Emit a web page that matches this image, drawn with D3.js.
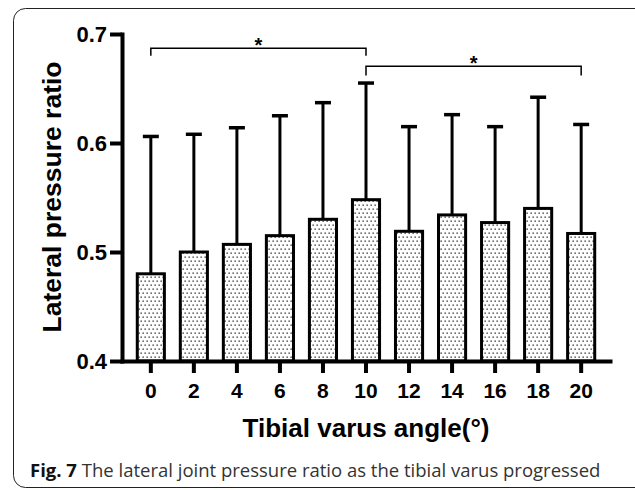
<!DOCTYPE html>
<html>
<head>
<meta charset="utf-8">
<script src="https://cdn.jsdelivr.net/npm/d3@7"></script>
<style>
  body { margin: 0; background: #fff; }
  svg { display: block; }
</style>
</head>
<body>
<div id="chart"></div>
<script>
////////////////////////////// Data //////////////////////////////
var angles = ["0", "2", "4", "6", "8", "10", "12", "14", "16", "18", "20"];
var means  = [0.480, 0.500, 0.507, 0.515, 0.530, 0.548, 0.519, 0.534, 0.527, 0.540, 0.517];
var upper  = [0.606, 0.608, 0.614, 0.625, 0.637, 0.655, 0.615, 0.626, 0.615, 0.642, 0.617];
var yTicks = [0.4, 0.5, 0.6, 0.7];
// significance brackets: from, to, bar level, leg end
var sigFrom  = ["0", "10"];
var sigTo    = ["10", "20"];
var sigLevel = [0.687, 0.6705];
var sigLeg   = [0.680, 0.662];

var width = 635, height = 490;

var svg = d3.select("#chart").append("svg")
    .attr("width", width)
    .attr("height", height);

//dotted fill for the bars
var defs = svg.append("defs");
var pat = defs.append("pattern")
    .attr("id", "dots")
    .attr("patternUnits", "userSpaceOnUse")
    .attr("width", 4)
    .attr("height", 8);
pat.append("rect").attr("width", 4).attr("height", 8).attr("fill", "#fff");
pat.append("rect").attr("x", 0.5).attr("y", 0.5).attr("width", 1.3).attr("height", 1.3).attr("fill", "#222");
pat.append("rect").attr("x", 2.5).attr("y", 4.5).attr("width", 1.3).attr("height", 1.3).attr("fill", "#222");

//frame round figure
svg.append("rect")
    .attr("x", 13.5).attr("y", 8.5)
    .attr("width", 640).attr("height", 479)
    .attr("rx", 12).attr("ry", 12)
    .attr("fill", "none")
    .attr("stroke", "#222")
    .attr("stroke-width", 1);

////////////////////////////// Scales //////////////////////////////
var x = d3.scaleBand()
    .domain(angles)
    .range([122, 610])
    .paddingInner(0.37)
    .paddingOuter(0.355);

var y = d3.scaleLinear()
    .domain([0.4, 0.7])
    .range([361, 34]);

var font = "'Liberation Sans', Arial, sans-serif";

////////////////////////////// Error bars //////////////////////////////
var eb = svg.append("g");
eb.selectAll(".err")
    .data(angles)
    .enter().append("line")
    .attr("x1", function (d) { return x(d) + x.bandwidth() / 2; })
    .attr("x2", function (d) { return x(d) + x.bandwidth() / 2; })
    .attr("y1", function (d, i) { return y(means[i]); })
    .attr("y2", function (d, i) { return y(upper[i]); })
    .attr("stroke", "#000")
    .attr("stroke-width", 3);
eb.selectAll(".cap")
    .data(angles)
    .enter().append("line")
    .attr("x1", function (d) { return x(d) + x.bandwidth() / 2 - 8; })
    .attr("x2", function (d) { return x(d) + x.bandwidth() / 2 + 8; })
    .attr("y1", function (d, i) { return y(upper[i]); })
    .attr("y2", function (d, i) { return y(upper[i]); })
    .attr("stroke", "#000")
    .attr("stroke-width", 3.5);

////////////////////////////// Bars //////////////////////////////
svg.append("g")
    .selectAll(".bar")
    .data(angles)
    .enter().append("rect")
    .attr("x", function (d) { return x(d); })
    .attr("y", function (d, i) { return y(means[i]); })
    .attr("width", x.bandwidth())
    .attr("height", function (d, i) { return y(0.4) - y(means[i]); })
    .attr("fill", "url(#dots)")
    .attr("stroke", "#000")
    .attr("stroke-width", 3);

////////////////////////////// Axes //////////////////////////////
var yAxis = svg.append("g")
    .attr("transform", "translate(122,0)")
    .call(d3.axisLeft(y).tickValues(yTicks).tickSize(12).tickSizeOuter(0).tickPadding(3)
        .tickFormat(d3.format(".1f")));

var xAxis = svg.append("g")
    .attr("transform", "translate(0,361)")
    .call(d3.axisBottom(x).tickSize(12).tickSizeOuter(0).tickPadding(10));

[yAxis, xAxis].forEach(function (ax) {
    ax.select(".domain").attr("stroke", "#000").attr("stroke-width", 4).attr("stroke-linecap", "square");
    ax.selectAll(".tick line").attr("stroke", "#000").attr("stroke-width", 4);
    ax.selectAll(".tick text")
        .attr("fill", "#000")
        .style("font-family", font)
        .style("font-weight", "bold")
        .style("font-size", "21px");
});
yAxis.selectAll(".tick text").style("font-size", "22px");

//axis titles
svg.append("text")
    .attr("x", 366).attr("y", 437)
    .attr("text-anchor", "middle")
    .style("font-family", font).style("font-weight", "bold").style("font-size", "26px")
    .text("Tibial varus angle(°)");

svg.append("text")
    .attr("transform", "translate(61,197) rotate(-90)")
    .attr("text-anchor", "middle")
    .style("font-family", font).style("font-weight", "bold").style("font-size", "26.5px")
    .text("Lateral pressure ratio");

////////////////////////////// Significance //////////////////////////////
var sig = svg.append("g");
sigFrom.forEach(function (f, i) {
    var x1 = x(f) + x.bandwidth() / 2,
        x2 = x(sigTo[i]) + x.bandwidth() / 2;
    sig.append("path")
        .attr("d", "M" + x1 + "," + y(sigLeg[i]) + "V" + y(sigLevel[i]) + "H" + x2 + "V" + y(sigLeg[i]))
        .attr("fill", "none")
        .attr("stroke", "#000")
        .attr("stroke-width", 1.5);
    sig.append("text")
        .attr("x", (x1 + x2) / 2)
        .attr("y", y(sigLevel[i]) + 4)
        .attr("text-anchor", "middle")
        .style("font-family", font).style("font-weight", "bold").style("font-size", "20px")
        .text("*");
});

////////////////////////////// Caption //////////////////////////////
var cap = svg.append("text")
    .attr("x", 30).attr("y", 477)
    .style("font-family", "'Open Sans', sans-serif")
    .style("font-size", "18.5px");
cap.append("tspan").style("font-weight", "bold").attr("fill", "#111").text("Fig. 7");
cap.append("tspan").attr("fill", "#333").text(" The lateral joint pressure ratio as the tibial varus progressed");
</script>
</body>
</html>
